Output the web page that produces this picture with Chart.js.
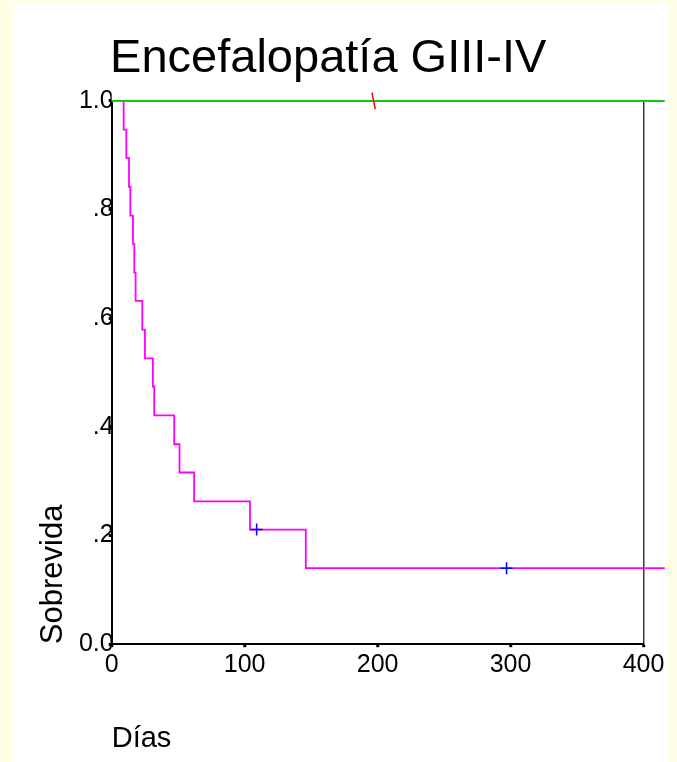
<!DOCTYPE html>
<html>
<head>
<meta charset="utf-8">
<script src="https://cdn.jsdelivr.net/npm/chart.js@4/dist/chart.umd.min.js"></script>
<style>
  body { margin: 0; background: #fffee6; }
  #wrap { width: 677px; height: 762px; }
</style>
</head>
<body>
<div id="wrap"><canvas id="kmChart" width="677" height="762"></canvas></div>
<script>
// Kaplan-Meier steps (days, survival)
const kmDays = [0, 9, 11, 13, 14, 16, 17, 18, 23, 25, 31, 32, 47, 51, 62, 104, 146, 416];
const kmSurv = [1, .947, .895, .842, .789, .737, .684, .632, .579, .526, .474, .421, .368, .316, .263, .211, .140, .140];
const kmCensorDays = [109, 297];
const kmCensorSurv = [.211, .140];

// group without events
const ctrlDays = [0, 416];
const ctrlSurv = [1, 1];
const ctrlCensorDays = [197];
const ctrlCensorSurv = [1];

const xTicks = [0, 100, 200, 300, 400];
const yTicks = [0, .2, .4, .6, .8, 1];
const yTickLabels = ['0.0', '.2', '.4', '.6', '.8', '1.0'];

const FONT = "'Liberation Sans', Arial, sans-serif";

function pts(xs, ys) {
    return xs.map((x, i) => ({ x: x, y: ys[i] }));
}

const panelBg = {
    id: 'panelBg',
    beforeDraw(chart) {
        const c = chart.ctx;
        c.save();
        c.fillStyle = '#fffee6';
        c.fillRect(0, 0, chart.width, chart.height);
        c.fillStyle = '#ffffff';
        c.fillRect(13, 4, 655, chart.height - 4);
        c.restore();
    }
};

new Chart(document.getElementById('kmChart'), {
    type: 'line',
    data: {
        datasets: [
            {
                label: 'censored 2',
                data: pts(kmCensorDays, kmCensorSurv),
                showLine: false,
                pointStyle: 'cross',
                pointRadius: 6,
                pointBorderWidth: 1.5,
                borderColor: '#0000ff',
                backgroundColor: '#0000ff',
                clip: false
            },
            {
                label: 'censored 1',
                data: pts(ctrlCensorDays, ctrlCensorSurv),
                showLine: false,
                pointStyle: 'line',
                pointRotation: 79,
                pointRadius: 8.5,
                pointBorderWidth: 1.5,
                borderColor: '#ff0000',
                backgroundColor: '#ff0000',
                clip: false
            },
            {
                label: 'sin encefalopatía',
                data: pts(ctrlDays, ctrlSurv),
                borderColor: '#19c419',
                borderWidth: 2,
                pointRadius: 0,
                stepped: true,
                clip: false
            },
            {
                label: 'GIII-IV',
                data: pts(kmDays, kmSurv),
                borderColor: '#ff00ff',
                borderWidth: 1.8,
                pointRadius: 0,
                stepped: true,
                clip: false
            }
        ]
    },
    options: {
        responsive: false,
        animation: false,
        layout: { padding: { left: 13, right: 33.5, top: 4, bottom: 5.6 } },
        plugins: {
            legend: { display: false },
            tooltip: { enabled: false },
            title: {
                display: true,
                text: 'Encefalopatía GIII-IV',
                color: '#000',
                font: { family: FONT, size: 47, weight: 'normal' },
                padding: { top: 27, bottom: 13.5 }
            }
        },
        scales: {
            x: {
                type: 'linear',
                min: 0,
                max: 400,
                afterBuildTicks: axis => { axis.ticks = xTicks.map(v => ({ value: v })); },
                ticks: {
                    color: '#000',
                    padding: 3.3,
                    maxRotation: 0,
                    font: { family: FONT, size: 25 }
                },
                grid: {
                    drawOnChartArea: true,
                    color: ctx => (ctx.tick && ctx.tick.value === 400) ? '#3a3a3a' : 'rgba(0,0,0,0)',
                    lineWidth: 1.5,
                    tickColor: '#000',
                    tickLength: 3,
                    tickWidth: 3
                },
                border: { color: '#000', width: 2 },
                title: {
                    display: true,
                    text: 'Días',
                    align: 'start',
                    color: '#000',
                    font: { family: FONT, size: 29 },
                    padding: { top: 37.8, bottom: 0 }
                }
            },
            y: {
                type: 'linear',
                min: 0,
                max: 1,
                afterBuildTicks: axis => { axis.ticks = yTicks.map(v => ({ value: v })); },
                afterFit: axis => { axis.width = 98.7; },
                ticks: {
                    color: '#000',
                    padding: -5,
                    font: { family: FONT, size: 25 },
                    callback: value => {
                        const i = yTicks.findIndex(t => Math.abs(t - value) < 1e-6);
                        return i >= 0 ? yTickLabels[i] : '';
                    }
                },
                grid: {
                    drawOnChartArea: false,
                    tickColor: '#000',
                    tickLength: 3,
                    tickWidth: 3
                },
                border: { color: '#000', width: 2 },
                title: {
                    display: true,
                    text: 'Sobrevida',
                    align: 'start',
                    color: '#000',
                    font: { family: FONT, size: 31 },
                    padding: { top: 22, bottom: 0 }
                }
            }
        }
    },
    plugins: [panelBg]
});
</script>
</body>
</html>
